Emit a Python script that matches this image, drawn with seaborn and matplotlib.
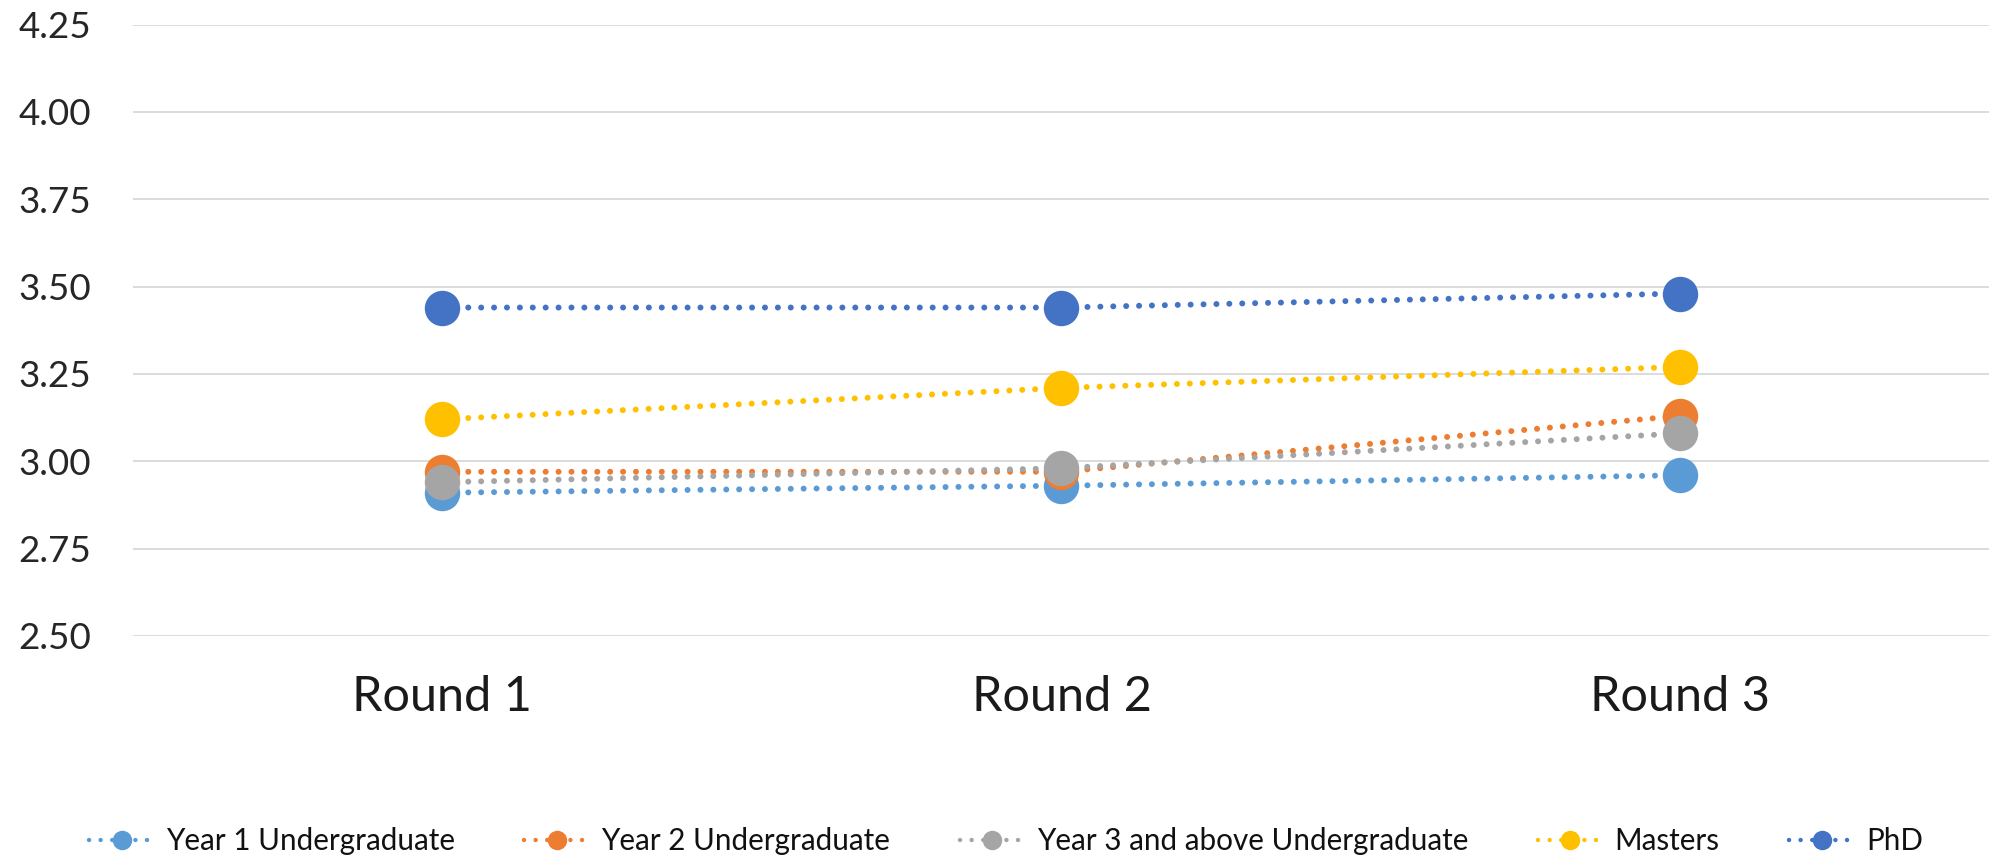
import matplotlib
matplotlib.use("Agg")
import matplotlib.pyplot as plt
from matplotlib.lines import Line2D
import seaborn as sns
import pandas as pd

# Mean scores per survey round, by level of study
rounds = ["Round 1", "Round 2", "Round 3"]
year1_ug = [2.91, 2.93, 2.96]
year2_ug = [2.97, 2.97, 3.13]
year3_ug = [2.94, 2.98, 3.08]
masters = [3.12, 3.21, 3.27]
phd = [3.44, 3.44, 3.48]

groups = ["Year 1 Undergraduate", "Year 2 Undergraduate",
          "Year 3 and above Undergraduate", "Masters", "PhD"]
colors = ["#5B9BD5", "#ED7D31", "#A5A5A5", "#FFC000", "#4472C4"]
y_ticks = [2.50, 2.75, 3.00, 3.25, 3.50, 3.75, 4.00, 4.25]

series = [year1_ug, year2_ug, year3_ug, masters, phd]
df = pd.DataFrame(
    [(r, g, v) for g, vals in zip(groups, series) for r, v in zip(rounds, vals)],
    columns=["round", "group", "score"],
)

sns.set_theme(style="white")
plt.rcParams["font.family"] = ["Lato", "DejaVu Sans"]

fig = plt.figure(figsize=(19.9, 8.6), dpi=100)
ax = fig.add_axes([0.0668, 0.2605, 0.9332, 0.711])

dot_style = (0, (0.01, 2.15))
sns.lineplot(
    data=df, x="round", y="score", hue="group", hue_order=groups,
    palette=colors, sort=False, ax=ax, legend=False,
    marker="o", markersize=25.5, markeredgewidth=0,
    linewidth=4.3, linestyle=dot_style, dash_capstyle="round",
)

ax.set_xlim(-0.5, 2.5)
ax.set_ylim(2.5, 4.25)
ax.set_yticks(y_ticks)
ax.set_yticklabels([f"{t:.2f}" for t in y_ticks])
ax.yaxis.grid(True, color="#D9D9D9", linewidth=1.3)
ax.set_axisbelow(True)
for s in ax.spines.values():
    s.set_visible(False)
ax.tick_params(axis="both", length=0)
ax.tick_params(axis="y", pad=30, labelsize=26.5, labelcolor="#262626")
ax.tick_params(axis="x", pad=28, labelsize=35, labelcolor="#1a1a1a")
ax.set_xlabel("")
ax.set_ylabel("")

handles = [
    Line2D([0], [0], color=c, linewidth=3.2, linestyle=(0, (0.01, 2.6)),
           dash_capstyle="round", marker="o", markersize=14,
           markeredgewidth=0)
    for c in colors
]
fig.legend(
    handles, groups, loc="center", bbox_to_anchor=(0.5055, 0.022),
    ncol=5, frameon=False, fontsize=21.3, handlelength=2.2,
    handletextpad=0.4, columnspacing=2.35, labelcolor="#111111",
)

fig.savefig("out.png", dpi=100)
